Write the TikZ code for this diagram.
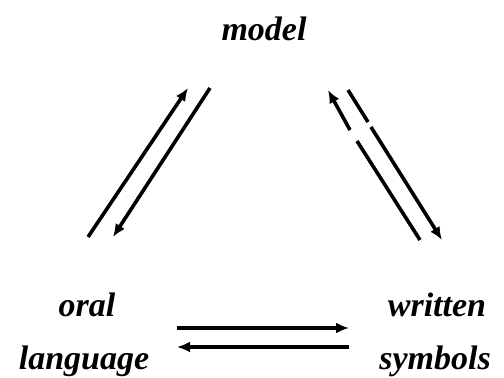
\documentclass[tikz,border=0pt]{standalone}
\usepackage{fontspec}
\setmainfont{Liberation Serif}
\usetikzlibrary{arrows.meta}
\begin{document}
\begin{tikzpicture}[x=1pt,y=-1pt,
  lbl/.style={font=\fontsize{34}{36}\selectfont\bfseries\itshape, inner sep=0pt},
  conn/.style={line width=3.6pt, -{Latex[length=13pt,width=11pt]}},
  plain/.style={line width=3.6pt}]
\useasboundingbox (0,0) rectangle (504,378);
\node[lbl] (model) at (264,29) {model};
\node[lbl] (oral) at (87,305) {oral};
\node[lbl] (lang) at (84,361) {language};
\node[lbl] (written) at (437,305) {written};
\node[lbl] (symb) at (435,361) {symbols};
% left pair
\coordinate (a1) at (88,237); \coordinate (a2) at (188,88);
\coordinate (b1) at (210,88); \coordinate (b2) at (113,237);
\draw[conn] (a1) -- (a2);
\draw[conn] (b1) -- (b2);
% right pair
\coordinate (c1) at (420,240); \coordinate (c2) at (357,141);
\coordinate (c3) at (350,130); \coordinate (c4) at (328,90);
\draw[plain] (c1) -- (c2);
\draw[conn] (c3) -- (c4);
\coordinate (d1) at (348,90); \coordinate (d2) at (368,122);
\coordinate (d3) at (371,127); \coordinate (d4) at (442,240);
\draw[plain] (d1) -- (d2);
\draw[conn] (d3) -- (d4);
% bottom pair
\coordinate (e1) at (177,328); \coordinate (e2) at (349,328);
\coordinate (f1) at (349,347); \coordinate (f2) at (177,347);
\draw[conn] (e1) -- (e2);
\draw[conn] (f1) -- (f2);
\end{tikzpicture}
\end{document}
